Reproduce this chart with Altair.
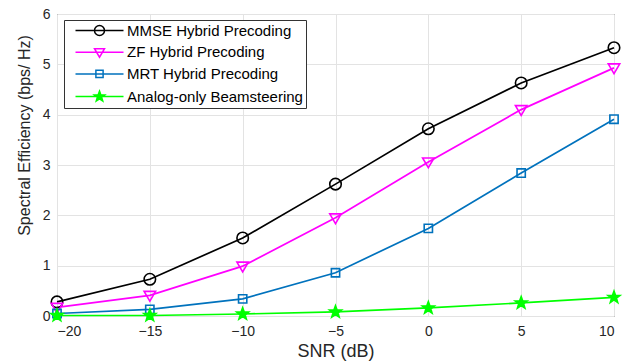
import math
import altair as alt
import pandas as pd

# ---------------- data ----------------
snr = [-20, -15, -10, -5, 0, 5, 10]
mmse = [0.28, 0.73, 1.55, 2.62, 3.72, 4.63, 5.33]
zf = [0.17, 0.41, 0.99, 1.95, 3.06, 4.10, 4.93]
mrt = [0.05, 0.13, 0.34, 0.86, 1.74, 2.84, 3.91]
analog = [0.01, 0.01, 0.04, 0.08, 0.16, 0.26, 0.37]

series_names = [
    "MMSE Hybrid Precoding",
    "ZF Hybrid Precoding",
    "MRT Hybrid Precoding",
    "Analog-only Beamsteering",
]
series_values = [mmse, zf, mrt, analog]
x_ticks = [-20, -15, -10, -5, 0, 5, 10]
y_ticks = [0, 1, 2, 3, 4, 5, 6]

# ---------------- styles ----------------
colors = ["#000000", "#ff00ff", "#0072bd", "#00ff00"]
fills = ["transparent", "transparent", "transparent", "#00ff00"]


def star_path(R=1.1, r=0.45):
    pts = []
    for k in range(10):
        ang = math.radians(-90 + 36 * k)
        rad = R if k % 2 == 0 else r
        pts.append(f"{rad * math.cos(ang):.3f},{rad * math.sin(ang):.3f}")
    return "M" + "L".join(pts) + "Z"


marker_paths = [
    "M1,0A1,1,0,1,1,-1,0A1,1,0,1,1,1,0Z",
    "M-1,-0.7L1,-0.7L0,1Z",
    "M-0.72,-0.72H0.72V0.72H-0.72Z",
    star_path(),
]
legend_paths = ["M-4.8,0H4.8" + p for p in marker_paths]

rows = []
for name, vals in zip(series_names, series_values):
    for s, v in zip(snr, vals):
        rows.append({"snr": s, "se": v, "series": name})
df = pd.DataFrame(rows)

FONT = "Liberation Sans"
TXT = "#262626"

x_enc = alt.X(
    "snr:Q",
    scale=alt.Scale(domain=[-20, 10], nice=False),
    axis=alt.Axis(
        values=x_ticks,
        title="SNR (dB)",
        grid=True,
        ticks=False,
        domain=False,
        labelPadding=8,
        labelFontSize=14,
        titleFontSize=18,
        titleY=26,
    ),
)
y_enc = alt.Y(
    "se:Q",
    scale=alt.Scale(domain=[0, 6], nice=False),
    axis=alt.Axis(
        values=y_ticks,
        format="d",
        title="Spectral Efficiency (bps/ Hz)",
        grid=True,
        ticks=False,
        domain=False,
        labelPadding=7,
        labelFontSize=14,
        titleFontSize=16,
        titleX=-33,
        titleY=121,
        titleBaseline="middle",
    ),
)

color_scale = alt.Scale(domain=series_names, range=colors)
fill_scale = alt.Scale(domain=series_names, range=fills)

lines = alt.Chart(df).mark_line(strokeWidth=1.7).encode(
    x=x_enc,
    y=y_enc,
    color=alt.Color("series:N", scale=color_scale, legend=None),
)

points = alt.Chart(df).mark_point(filled=False, strokeWidth=1.6, size=132, opacity=1).encode(
    x=x_enc,
    y=y_enc,
    color=alt.Color("series:N", scale=color_scale, legend=None),
    fill=alt.Fill("series:N", scale=fill_scale, legend=None),
    shape=alt.Shape("series:N", scale=alt.Scale(domain=series_names, range=marker_paths), legend=None),
)

legend_props = dict(
    title=None,
    orient="none",
    legendX=7,
    legendY=6,
    padding=3,
    strokeColor="#333333",
    fillColor="white",
    symbolSize=100,
    symbolStrokeWidth=1.5,
    symbolOffset=25,
    labelOffset=20,
    rowPadding=5.7,
    labelFont=FONT,
    labelFontSize=15,
    labelColor="#000000",
    labelLimit=0,
)

legend_layer = (
    alt.Chart(df)
    .mark_point(filled=False, strokeWidth=1.5, size=100, opacity=1)
    .transform_filter("datum.snr > 1000")
    .encode(
        x=x_enc,
        y=y_enc,
        color=alt.Color("series:N", scale=color_scale, legend=alt.Legend(**legend_props)),
        fill=alt.Fill("series:N", scale=fill_scale, legend=alt.Legend(**legend_props)),
        shape=alt.Shape(
            "series:N",
            scale=alt.Scale(domain=series_names, range=legend_paths),
            legend=alt.Legend(**legend_props),
        ),
    )
)

chart = (
    alt.layer(lines, points, legend_layer)
    .resolve_scale(color="independent", fill="independent", shape="independent")
    .properties(
        width=557,
        height=302,
        autosize=alt.AutoSizeParams(type="none"),
        padding={"left": 57, "top": 14, "right": 21, "bottom": 48},
        background="white",
    )
    .configure_view(stroke="#333333", strokeWidth=1)
    .configure_axis(
        labelFont=FONT,
        titleFont=FONT,
        labelColor=TXT,
        titleColor=TXT,
        titleFontWeight="normal",
        gridColor="#e3e3e3",
        gridWidth=1,
    )
)

chart.save("out.html", embed_options={"renderer": "svg", "actions": False})
